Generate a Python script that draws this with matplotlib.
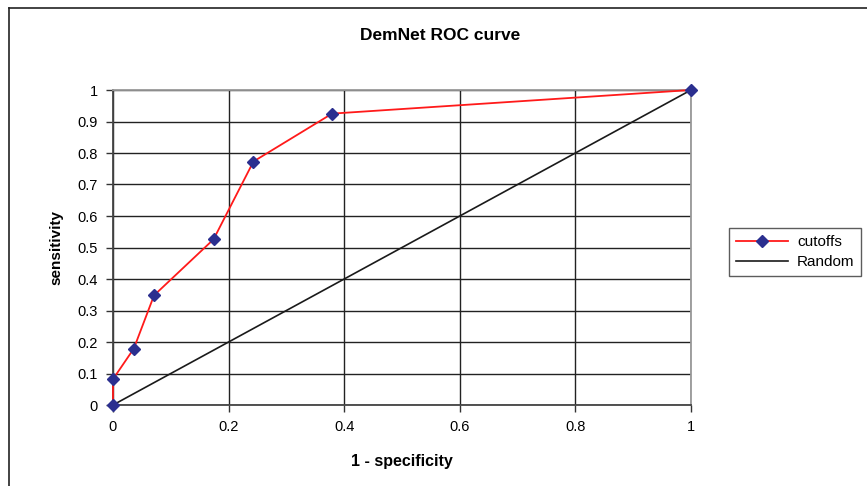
import numpy as np
import matplotlib.pyplot as plt
from matplotlib.lines import Line2D

plt.rcParams["font.family"] = ["Liberation Sans", "DejaVu Sans"]

# ROC points
fpr = [0.0, 0.0, 0.036, 0.071, 0.174, 0.243, 0.379, 1.0]
tpr = [0.0, 0.082, 0.179, 0.348, 0.526, 0.773, 0.925, 1.0]
random_x = [0.0, 1.0]
random_y = [0.0, 1.0]

fig = plt.figure(figsize=(8.67, 4.86), dpi=100)
ax = fig.add_axes([113 / 867, 1 - 405 / 486, (691 - 113) / 867, (405 - 90) / 486])

ax.plot(fpr, tpr, color="#ff1a1a", linewidth=1.3, marker="D", markersize=6.5,
        markerfacecolor="#2b2f8f", markeredgecolor="#2b2f8f", label="cutoffs", zorder=3,
        clip_on=False)
ax.plot(random_x, random_y, color="#1a1a1a", linewidth=1.2, label="Random", zorder=2)

ax.set_xlim(0, 1)
ax.set_ylim(0, 1)
ax.set_xticks(np.arange(0, 1.01, 0.2))
ax.set_yticks(np.arange(0, 1.01, 0.1))
ax.set_xticklabels(["0", "0.2", "0.4", "0.6", "0.8", "1"])
ax.set_yticklabels(["0", "0.1", "0.2", "0.3", "0.4", "0.5", "0.6", "0.7", "0.8", "0.9", "1"])
ax.tick_params(labelsize=10.5, length=5, width=1, color="#333333", pad=6)
ax.grid(True, color="#222222", linewidth=1)

for side in ["left", "bottom"]:
    ax.spines[side].set_color("#444444")
    ax.spines[side].set_linewidth(1.3)
for side in ["top", "right"]:
    ax.spines[side].set_color("#999999")
    ax.spines[side].set_linewidth(1.3)

ax.set_xlabel("1 - specificity", fontsize=11.5, fontweight="bold", labelpad=14)
ax.set_ylabel("sensitivity", fontsize=11, fontweight="bold", labelpad=10)
fig.text(440 / 867, 1 - 36 / 486, "DemNet ROC curve", fontsize=12.5, fontweight="bold",
         ha="center", va="center")

leg = ax.legend(loc="center left", bbox_to_anchor=(729 / 867, 1 - 252 / 486),
                bbox_transform=fig.transFigure, fontsize=11, frameon=True,
                fancybox=False, edgecolor="#333333", handlelength=3.4,
                handletextpad=0.6, borderpad=0.45, labelspacing=0.4, borderaxespad=0)
leg.get_frame().set_linewidth(1)

# outer chart border (left and top visible)
fig.add_artist(Line2D([9 / 867, 9 / 867], [0, 1 - 8 / 486], transform=fig.transFigure,
                      color="#222222", linewidth=1.2))
fig.add_artist(Line2D([9 / 867, 1], [1 - 8 / 486, 1 - 8 / 486], transform=fig.transFigure,
                      color="#222222", linewidth=1.2))

fig.savefig("out.png", dpi=100)
